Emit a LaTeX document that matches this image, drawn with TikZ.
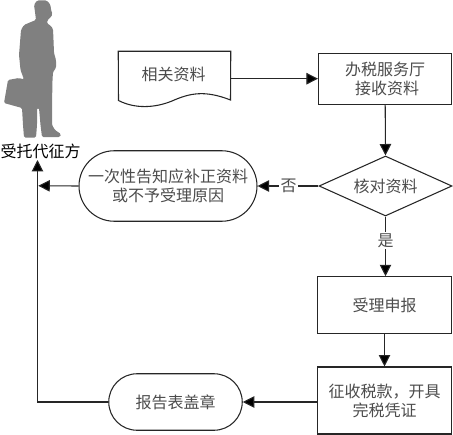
\documentclass[tikz,border=0pt]{standalone}
\usepackage{fontspec}
\setmainfont{Noto Sans CJK SC}
\usetikzlibrary{shapes.geometric,shapes.misc,arrows.meta}
\def\px{0.75pt}
\colorlet{inkline}{black!85}
\colorlet{inktext}{black!70}
\tikzset{
  flowline/.style={draw=inkline,line width=0.8pt},
  flowarrow/.style={flowline,-{Triangle[length=8.6pt,width=8.6pt,fill=black]}},
  txt/.style={text=inktext,font=\fontsize{12pt}{14.2pt}\selectfont,align=center,inner sep=0pt},
  boxnode/.style={txt,flowline,fill=white,rectangle,minimum width=133.5*\px},
  pill/.style={txt,flowline,fill=white,rounded rectangle},
  decision/.style={txt,flowline,fill=white,diamond,aspect=2.2,inner sep=0pt,minimum width=133*\px,minimum height=60*\px},
  edgelabel/.style={txt,fill=white,inner xsep=1pt,inner ysep=1pt}
}
\begin{document}
\begin{tikzpicture}[x=0.75pt,y=-0.75pt]
\useasboundingbox (0,0) rectangle (453,435);
% person silhouette
\fill[black!50,rounded corners=1pt] (37,0.5) -- (47,0.5) -- (50.5,5) -- (51,10) -- (52.5,14) -- (51,17) -- (47.5,20) -- (47,23.5) -- (50.5,25.5) -- (53,29) -- (53.5,40) -- (54,53) -- (56,60) -- (56,68) -- (53,72) -- (52.5,80) -- (52,105) -- (52,125) -- (55,130) -- (61,134) -- (60,137) -- (42,137) -- (40.5,125) -- (39,108) -- (37,108) -- (37,125) -- (36,137.5) -- (24,137.5) -- (23,125) -- (22,108) -- (4,103) -- (8,80) -- (19,78) -- (24,79.5) -- (20.5,70) -- (19,55) -- (21,30) -- (24,25) -- (31,22) -- (36,20) -- (35,12) -- (34,5) -- cycle;
\node[inner sep=0pt,font=\fontsize{12pt}{14pt}\selectfont,text=black] (agent) at (40.5,151) {受托代征方};
% document shape
\node[minimum width=112*\px,minimum height=55.5*\px,inner sep=0pt] (doc) at (174.5,79.3) {};
\draw[flowline,fill=white] (doc.north west) -- (doc.north east) -- (230.5,100) .. controls (205,90) and (190,93) .. (172,101) .. controls (155,108) and (135,109) .. (118.5,100.5) -- cycle;
\node[txt] (doclabel) at (173.7,74.5) {相关资料};
% boxes
\node[boxnode,minimum height=51*\px] (hall) at (385.2,78.7) {办税服务厅\\\hspace*{3pt}接收资料};
\node[decision] (check) at (385.5,186) {核对资料};
\node[pill,minimum width=178*\px,minimum height=70.5*\px] (reject) at (168,186) {一次性告知应补正资料\\或不予受理原因};
\node[boxnode,minimum height=56.5*\px] (accept) at (384.5,305) {受理申报};
\node[boxnode,minimum height=67*\px] (collect) at (384.5,400.5) {征收税款，开具\\完税凭证};
\node[pill,minimum width=133.5*\px,minimum height=56.5*\px] (stamp) at (175.5,402) {报告表盖章};
% helper ends
\coordinate (trunktop) at (37.5,160);
\coordinate (branch) at (38.3,185.8);
% connectors
\draw[flowarrow] (doc.east |- hall.west) -- (hall.west);
\draw[flowarrow] (hall.south) -- (check.north);
\draw[flowarrow] (check.west) -- (reject.east) node[edgelabel,midway,xshift=0.5pt] (nolabel) {否};
\draw[flowarrow] (check.south) -- (check.south |- accept.north) node[edgelabel,pos=0.4] (yeslabel) {是};
\draw[flowarrow] (accept.south) -- (accept.south |- collect.north);
\draw[flowarrow] (collect.west |- stamp.east) -- (stamp.east);
\draw[flowarrow] (stamp.west) -| (trunktop);
\draw[flowarrow] (reject.west) -- (branch);
\end{tikzpicture}
\end{document}
